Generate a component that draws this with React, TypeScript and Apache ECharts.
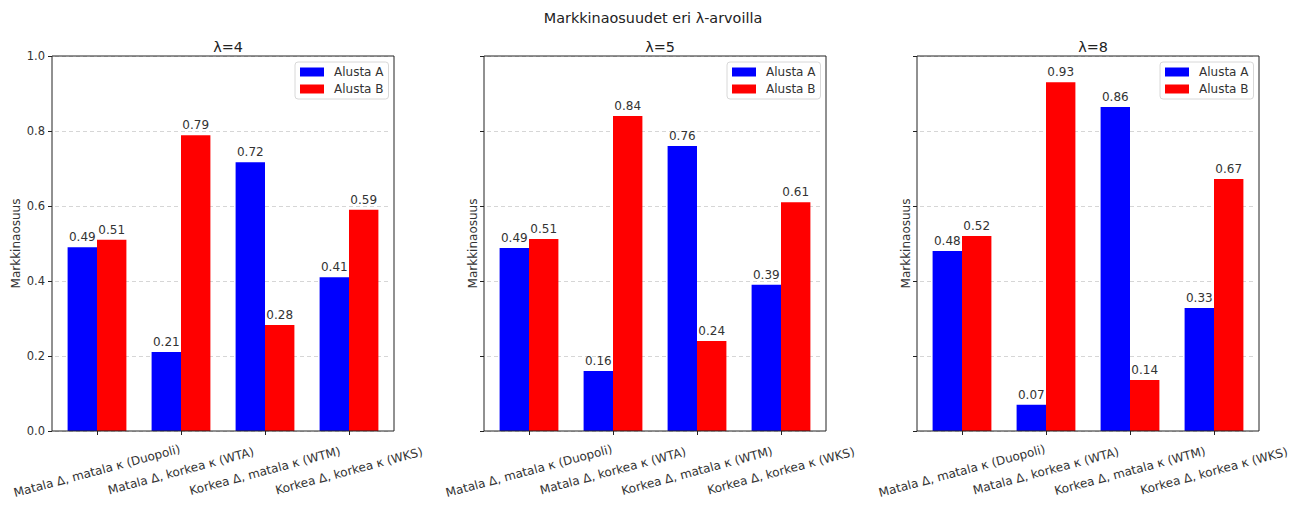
import React, { useEffect, useRef } from "react";
import * as echarts from "echarts";

const categories = [
  "Matala Δ, matala κ (Duopoli)",
  "Matala Δ, korkea κ (WTA)",
  "Korkea Δ, matala κ (WTM)",
  "Korkea Δ, korkea κ (WKS)",
];
const panelTitles = ["λ=4", "λ=5", "λ=8"];
const seriesNames = ["Alusta A", "Alusta B"];
const lambda4A = [0.49, 0.211, 0.717, 0.41];
const lambda4B = [0.51, 0.789, 0.283, 0.59];
const lambda5A = [0.488, 0.16, 0.76, 0.39];
const lambda5B = [0.512, 0.84, 0.24, 0.61];
const lambda8A = [0.48, 0.07, 0.864, 0.328];
const lambda8B = [0.52, 0.93, 0.136, 0.672];
const yTicks = [0, 0.2, 0.4, 0.6, 0.8, 1.0];

const panelData = [
  [lambda4A, lambda4B],
  [lambda5A, lambda5B],
  [lambda8A, lambda8B],
];
const colors = ["#0000ff", "#ff0000"];
const FONT = "DejaVu Sans";

export default function App() {
  const ref = useRef<HTMLDivElement>(null);
  useEffect(() => {
    if (!ref.current) return;
    const chart = echarts.init(ref.current, undefined, { renderer: "svg" });
    const lefts = [52, 484, 917];
    const W = 342;
    const top = 56;
    const H = 375;
    const inset = 3;
    const grids: any[] = [];
    const xAxes: any[] = [];
    const yAxes: any[] = [];
    const series: any[] = [];
    const legends: any[] = [];
    const titles: any[] = [
      {
        text: "Markkinaosuudet eri λ-arvoilla",
        left: 648,
        textAlign: "center",
        top: 6,
        textStyle: { fontFamily: FONT, fontSize: 14.4, fontWeight: "normal", color: "#222" },
      },
    ];
    const graphics: any[] = [];
    lefts.forEach((L, i) => {
      grids.push({ left: L + inset, top, width: W - 2 * inset, height: H, show: false });
      xAxes.push({
        type: "category",
        gridIndex: i,
        data: categories,
        axisLine: { show: false },
        axisTick: { show: true, alignWithLabel: true, length: 4, lineStyle: { color: "#222" } },
        axisLabel: {
          interval: 0,
          rotate: 15,
          align: "center",
          verticalAlign: "middle",
          margin: 40,
          fontFamily: FONT,
          fontSize: 12,
          color: "#333",
        },
      });
      yAxes.push({
        type: "value",
        gridIndex: i,
        min: yTicks[0],
        max: yTicks[yTicks.length - 1],
        interval: 0.2,
        offset: inset,
        name: "Markkinaosuus",
        nameLocation: "middle",
        nameGap: i === 0 ? 30 : 5,
        nameTextStyle: { fontFamily: FONT, fontSize: 12, color: "#333" },
        axisLine: { show: false },
        axisTick: { show: true, length: 4, lineStyle: { color: "#222" } },
        axisLabel: {
          show: i === 0,
          formatter: (v: number) => v.toFixed(1),
          fontFamily: FONT,
          fontSize: 11.5,
          color: "#333",
          margin: 7,
        },
        splitLine: { show: true, lineStyle: { type: [4, 3], color: "#cccccc", width: 0.8 } },
      });
      titles.push({
        text: panelTitles[i],
        left: L + W / 2,
        textAlign: "center",
        top: 35,
        textStyle: { fontFamily: FONT, fontSize: 14.4, fontWeight: "normal", color: "#222" },
      });
      panelData[i].forEach((vals, s) => {
        series.push({
          type: "bar",
          name: seriesNames[s],
          xAxisIndex: i,
          yAxisIndex: i,
          data: vals,
          barWidth: "35%",
          barGap: "0%",
          itemStyle: { color: colors[s] },
          label: {
            show: true,
            position: "top",
            distance: 4,
            formatter: (p: any) => Number(p.value).toFixed(2),
            fontFamily: FONT,
            fontSize: 12,
            color: "#333",
          },
        });
      });
      legends.push({
        data: seriesNames,
        orient: "vertical",
        left: L + 243,
        top: 62,
        itemWidth: 24,
        itemHeight: 9,
        itemGap: 5,
        padding: [4, 5, 4, 5],
        borderColor: "#d8d8d8",
        borderWidth: 1,
        borderRadius: 3,
        backgroundColor: "rgba(255,255,255,0.85)",
        icon: "rect",
        textStyle: { fontFamily: FONT, fontSize: 12, color: "#333", padding: [0, 0, 0, 5] },
        selectedMode: false,
      });
      graphics.push({
        type: "rect",
        z: 100,
        shape: { x: L, y: top, width: W, height: H },
        style: { fill: "none", stroke: "#222", lineWidth: 1 },
      });
    });
    chart.setOption({
      animation: false,
      backgroundColor: "#fff",
      title: titles,
      grid: grids,
      xAxis: xAxes,
      yAxis: yAxes,
      series,
      legend: legends,
      graphic: graphics,
    });
    return () => chart.dispose();
  }, []);
  return <div ref={ref} style={{ width: 1300, height: 513, position: "absolute", left: 0, top: 0 }} />;
}
